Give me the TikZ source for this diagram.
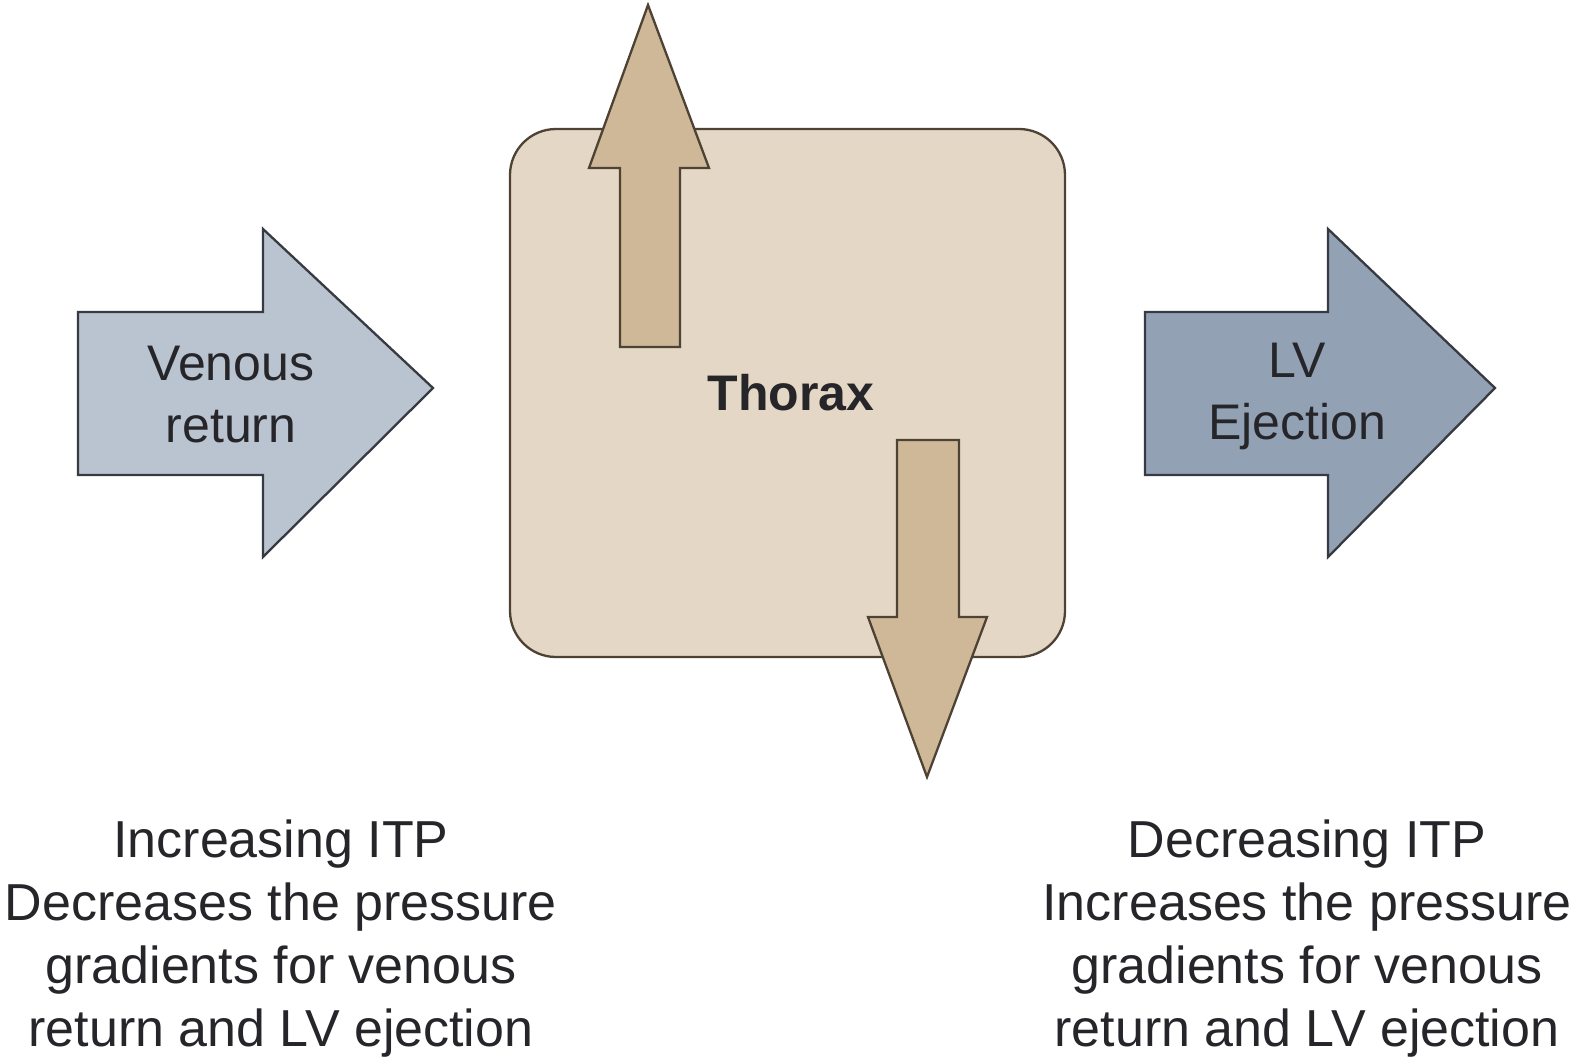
\documentclass[tikz,border=0pt]{standalone}
\usepackage{fontspec}
\setmainfont{Liberation Sans}
\definecolor{venousfill}{RGB}{186,196,209}
\definecolor{lvfill}{RGB}{146,161,180}
\definecolor{thoraxfill}{RGB}{229,215,197}
\definecolor{pressfill}{RGB}{206,184,152}
\definecolor{bluedge}{RGB}{55,58,64}
\definecolor{brownedge}{RGB}{78,66,52}
\definecolor{inktext}{RGB}{38,38,42}
\begin{document}
\begin{tikzpicture}[x=1pt,y=-1pt,
  flowarrow/.style={line width=2.3pt,draw=bluedge,line join=miter},
  pressarrow/.style={line width=2.3pt,draw=brownedge,fill=pressfill,line join=miter},
  label/.style={text=inktext,font=\fontsize{50}{62}\selectfont,align=center,inner sep=0pt},
  caption/.style={text=inktext,font=\fontsize{52}{63}\selectfont,align=center,inner sep=0pt}]
\useasboundingbox (0,0) rectangle (1580,1057);
\fill[white] (0,0) rectangle (1580,1057);

% venous return arrow
\draw[flowarrow,fill=venousfill]
  (78,312) -- (263,312) -- (263,229) -- (433,388) -- (263,557) -- (263,475) -- (78,475) -- cycle;
\node[label] (venous) at (231,395) {Venous\\return};

% LV ejection arrow
\draw[flowarrow,fill=lvfill]
  (1145,312) -- (1328,312) -- (1328,229) -- (1495,388) -- (1328,557) -- (1328,475) -- (1145,475) -- cycle;
\node[label] (lv) at (1297,396) {LV\\Ejection};

% thorax
\draw[line width=2.3pt,draw=brownedge,fill=thoraxfill,rounded corners=46pt]
  (510,129) rectangle (1065,657);
\node[label,font=\fontsize{50}{62}\selectfont\bfseries] (thorax) at (791,393) {Thorax};

% pressure arrows
\draw[pressarrow]
  (620,347) -- (620,168) -- (589,168) -- (648,5) -- (709,168) -- (680,168) -- (680,347) -- cycle;
\draw[pressarrow]
  (897,440) -- (959,440) -- (959,617) -- (987,617) -- (927,777) -- (868,617) -- (897,617) -- cycle;

% captions
\node[caption] (incr) at (281,939) {Increasing ITP\\Decreases the pressure\\gradients for venous\\return and LV ejection};
\node[caption] (decr) at (1307,939) {Decreasing ITP\\Increases the pressure\\gradients for venous\\return and LV ejection};
\end{tikzpicture}
\end{document}
